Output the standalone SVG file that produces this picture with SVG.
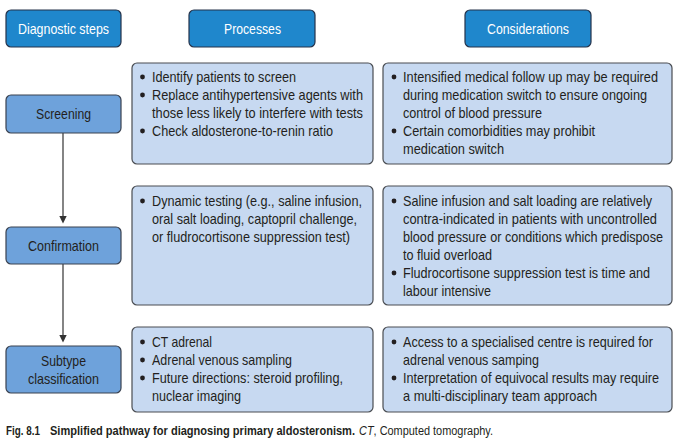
<svg xmlns="http://www.w3.org/2000/svg" width="680" height="444" viewBox="0 0 680 444">
<style>
text{font-family:"Liberation Sans",Arial,sans-serif;font-size:15px;fill:#231f20}
.hdr rect{fill:#1f87cc;stroke:#25324a;stroke-width:1.2}
.hdr text{fill:#fff}
.step rect{fill:#6ea2db;stroke:#3a4250;stroke-width:1.2}
.box rect{fill:#c7d9f1;stroke:#4a4d52;stroke-width:1.2}
.box circle{fill:#231f20}
.conn line{stroke:#333;stroke-width:1.2}
.conn path{fill:#333}
.cap{font-size:12.5px}
</style>
<rect width="680" height="444" fill="#fff"/>
<g id="h1" class="hdr"><rect x="6" y="10" width="115" height="37" rx="5"/><text x="18" y="34" textLength="91" lengthAdjust="spacingAndGlyphs">Diagnostic steps</text></g>
<g id="h2" class="hdr"><rect x="189" y="10" width="126" height="37" rx="5"/><text x="224" y="34" textLength="57" lengthAdjust="spacingAndGlyphs">Processes</text></g>
<g id="h3" class="hdr"><rect x="465" y="10" width="126" height="37" rx="5"/><text x="487" y="34" textLength="82" lengthAdjust="spacingAndGlyphs">Considerations</text></g>
<g id="connectors" class="conn">
<line x1="63" y1="133" x2="63" y2="218"/>
<path d="M59.3,216 L66.7,216 L63,223.5 z"/>
<line x1="63" y1="264" x2="63" y2="337"/>
<path d="M59.3,335 L66.7,335 L63,342.5 z"/>
</g>
<g id="s1" class="step"><rect x="6" y="95" width="115" height="38" rx="5"/><text x="36" y="119" textLength="55" lengthAdjust="spacingAndGlyphs">Screening</text></g>
<g id="s2" class="step"><rect x="6" y="227" width="115" height="37" rx="5"/><text x="28" y="250.5" textLength="71" lengthAdjust="spacingAndGlyphs">Confirmation</text></g>
<g id="s3" class="step"><rect x="6" y="346" width="115" height="47" rx="5"/><text x="41" y="366" textLength="45" lengthAdjust="spacingAndGlyphs">Subtype</text><text x="28" y="384" textLength="71" lengthAdjust="spacingAndGlyphs">classification</text></g>
<g id="p1" class="box"><rect x="132" y="63" width="241" height="101" rx="5"/>
<circle cx="142.5" cy="77" r="2.4"/><circle cx="142.5" cy="95" r="2.4"/><circle cx="142.5" cy="131" r="2.4"/>
<text x="152" y="82" textLength="144" lengthAdjust="spacingAndGlyphs">Identify patients to screen</text>
<text x="152" y="100" textLength="211" lengthAdjust="spacingAndGlyphs">Replace antihypertensive agents with</text>
<text x="152" y="118" textLength="211" lengthAdjust="spacingAndGlyphs">those less likely to interfere with tests</text>
<text x="152" y="136" textLength="181" lengthAdjust="spacingAndGlyphs">Check aldosterone-to-renin ratio</text></g>
<g id="c1" class="box"><rect x="383" y="63" width="289" height="101" rx="5"/>
<circle cx="394" cy="77" r="2.4"/><circle cx="394" cy="131" r="2.4"/>
<text x="403" y="82" textLength="255" lengthAdjust="spacingAndGlyphs">Intensified medical follow up may be required</text>
<text x="403" y="100" textLength="244" lengthAdjust="spacingAndGlyphs">during medication switch to ensure ongoing</text>
<text x="403" y="118" textLength="139" lengthAdjust="spacingAndGlyphs">control of blood pressure</text>
<text x="403" y="136" textLength="192" lengthAdjust="spacingAndGlyphs">Certain comorbidities may prohibit</text>
<text x="403" y="154" textLength="101" lengthAdjust="spacingAndGlyphs">medication switch</text></g>
<g id="p2" class="box"><rect x="132" y="186" width="241" height="119" rx="5"/>
<circle cx="142.5" cy="201" r="2.4"/>
<text x="152" y="206" textLength="210" lengthAdjust="spacingAndGlyphs">Dynamic testing (e.g., saline infusion,</text>
<text x="152" y="224" textLength="205" lengthAdjust="spacingAndGlyphs">oral salt loading, captopril challenge,</text>
<text x="152" y="242" textLength="198" lengthAdjust="spacingAndGlyphs">or fludrocortisone suppression test)</text></g>
<g id="c2" class="box"><rect x="383" y="186" width="289" height="119" rx="5"/>
<circle cx="394" cy="201" r="2.4"/><circle cx="394" cy="273" r="2.4"/>
<text x="403" y="206" textLength="249" lengthAdjust="spacingAndGlyphs">Saline infusion and salt loading are relatively</text>
<text x="403" y="224" textLength="254" lengthAdjust="spacingAndGlyphs">contra-indicated in patients with uncontrolled</text>
<text x="403" y="242" textLength="260" lengthAdjust="spacingAndGlyphs">blood pressure or conditions which predispose</text>
<text x="403" y="260" textLength="89" lengthAdjust="spacingAndGlyphs">to fluid overload</text>
<text x="403" y="278" textLength="247" lengthAdjust="spacingAndGlyphs">Fludrocortisone suppression test is time and</text>
<text x="403" y="296" textLength="88" lengthAdjust="spacingAndGlyphs">labour intensive</text></g>
<g id="p3" class="box"><rect x="132" y="327" width="241" height="85" rx="5"/>
<circle cx="142.5" cy="342" r="2.4"/><circle cx="142.5" cy="360" r="2.4"/><circle cx="142.5" cy="378" r="2.4"/>
<text x="152" y="347" textLength="60" lengthAdjust="spacingAndGlyphs">CT adrenal</text>
<text x="152" y="365" textLength="140" lengthAdjust="spacingAndGlyphs">Adrenal venous sampling</text>
<text x="152" y="383" textLength="191" lengthAdjust="spacingAndGlyphs">Future directions: steroid profiling,</text>
<text x="152" y="401" textLength="89" lengthAdjust="spacingAndGlyphs">nuclear imaging</text></g>
<g id="c3" class="box"><rect x="383" y="327" width="289" height="85" rx="5"/>
<circle cx="394" cy="342" r="2.4"/><circle cx="394" cy="378" r="2.4"/>
<text x="403" y="347" textLength="250" lengthAdjust="spacingAndGlyphs">Access to a specialised centre is required for</text>
<text x="403" y="365" textLength="136" lengthAdjust="spacingAndGlyphs">adrenal venous samping</text>
<text x="403" y="383" textLength="256" lengthAdjust="spacingAndGlyphs">Interpretation of equivocal results may require</text>
<text x="403" y="401" textLength="194" lengthAdjust="spacingAndGlyphs">a multi-disciplinary team approach</text></g>
<g id="caption">
<text class="cap" x="6" y="435" font-weight="bold" textLength="34" lengthAdjust="spacingAndGlyphs">Fig. 8.1</text>
<text class="cap" x="50" y="435" font-weight="bold" textLength="305" lengthAdjust="spacingAndGlyphs">Simplified pathway for diagnosing primary aldosteronism.</text>
<text class="cap" x="359" y="435" textLength="134" lengthAdjust="spacingAndGlyphs"><tspan font-style="italic">CT</tspan>, Computed tomography.</text>
</g>
</svg>
